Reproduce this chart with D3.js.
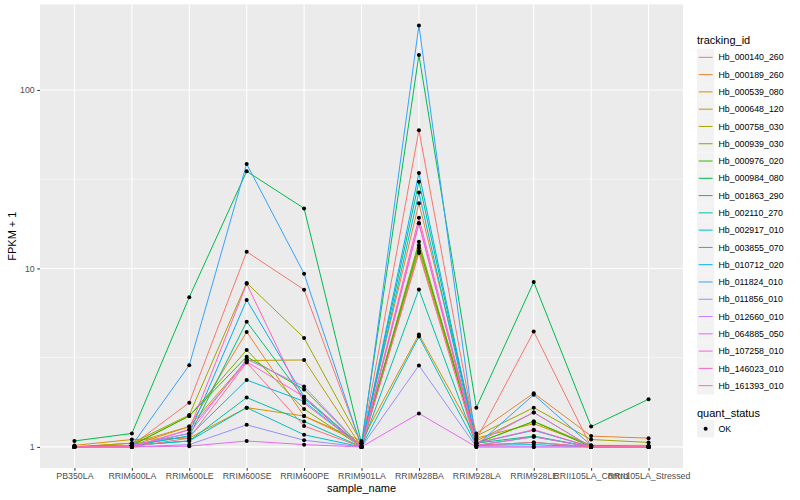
<!DOCTYPE html>
<html>
<head>
<meta charset="utf-8">
<script src="https://cdn.jsdelivr.net/npm/d3@7"></script>
<style>
  body { margin: 0; background: #fff; }
  text { font-family: "Liberation Sans", Arial, sans-serif; }
</style>
</head>
<body>
<div class="chart"></div>
<script>
const svgWidth = 800
const svgHeight = 500

// sample names on the x axis
const samples = ["PB350LA", "RRIM600LA", "RRIM600LE", "RRIM600SE", "RRIM600PE", "RRIM901LA",
  "RRIM928BA", "RRIM928LA", "RRIM928LE", "RRII105LA_Control", "RRII105LA_Stressed"]

const trackingIds = ["Hb_000140_260", "Hb_000189_260", "Hb_000539_080", "Hb_000648_120",
  "Hb_000758_030", "Hb_000939_030", "Hb_000976_020", "Hb_000984_080", "Hb_001863_290",
  "Hb_002110_270", "Hb_002917_010", "Hb_003855_070", "Hb_010712_020", "Hb_011824_010",
  "Hb_011856_010", "Hb_012660_010", "Hb_064885_050", "Hb_107258_010", "Hb_146023_010",
  "Hb_161393_010"]

// FPKM + 1, one row per tracking id, in sample order
const fpkm = [
  [1.0, 1.02, 1.77, 12.4, 7.6, 1.02, 59.5, 1.10, 4.43, 1.0, 1.0],
  [1.0, 1.05, 1.30, 4.41, 1.49, 1.05, 23.2, 1.19, 2.0, 1.15, 1.12],
  [1.02, 1.10, 1.12, 1.66, 1.49, 1.08, 4.27, 1.12, 1.35, 1.02, 1.02],
  [1.0, 1.02, 1.30, 3.05, 3.07, 1.0, 12.5, 1.08, 1.56, 1.0, 1.0],
  [1.0, 1.05, 1.51, 8.3, 4.08, 1.05, 13.0, 1.15, 1.66, 1.10, 1.06],
  [1.0, 1.02, 1.49, 3.49, 1.63, 1.0, 14.1, 1.05, 1.39, 1.02, 1.0],
  [1.0, 1.02, 1.49, 3.2, 2.10, 1.0, 13.5, 1.05, 1.39, 1.0, 1.0],
  [1.08, 1.19, 6.9, 35.0, 21.7, 1.05, 157, 1.66, 8.4, 1.30, 1.85],
  [1.0, 1.02, 1.15, 5.03, 1.87, 1.0, 30.6, 1.05, 1.15, 1.0, 1.0],
  [1.0, 1.02, 1.08, 1.89, 1.39, 1.0, 7.63, 1.02, 1.06, 1.0, 1.0],
  [1.0, 1.02, 1.08, 1.66, 1.17, 1.0, 4.15, 1.02, 1.14, 1.0, 1.0],
  [1.0, 1.02, 1.15, 2.37, 1.80, 1.0, 26.6, 1.02, 1.03, 1.0, 1.0],
  [1.0, 1.02, 1.19, 6.66, 1.91, 1.0, 34.2, 1.05, 1.24, 1.0, 1.0],
  [1.0, 1.02, 2.87, 38.5, 9.35, 1.0, 230, 1.02, 1.96, 1.02, 1.0],
  [1.0, 1.0, 1.03, 1.33, 1.09, 1.0, 2.86, 1.0, 1.0, 1.0, 1.0],
  [1.0, 1.02, 1.19, 3.1, 2.18, 1.0, 17.9, 1.05, 1.56, 1.0, 1.0],
  [1.0, 1.0, 1.01, 1.08, 1.03, 1.0, 1.54, 1.0, 1.0, 1.0, 1.0],
  [1.0, 1.0, 1.25, 3.0, 1.91, 1.0, 17.9, 1.02, 1.14, 1.0, 1.0],
  [1.0, 1.0, 1.25, 8.2, 1.76, 1.0, 19.2, 1.05, 1.25, 1.0, 1.0],
  [1.0, 1.0, 1.12, 2.97, 1.31, 1.0, 12.2, 1.02, 1.06, 1.0, 1.0]
]

const yTicks = [1, 10, 100]
const yMinorTicks = [Math.sqrt(10), Math.sqrt(1000)]

// ggplot default hue palette for 20 groups
const palette = ["#F8766D", "#EA8331", "#D89000", "#C09B00", "#A3A500", "#7CAE00", "#39B600",
  "#00BB4E", "#00BF7D", "#00C1A3", "#00BFC4", "#00BAE0", "#00B0F6", "#35A2FF", "#9590FF",
  "#C77CFF", "#E76BF3", "#FA62DB", "#FF62BC", "#FF6C91"]

let panel = { left: 40, right: 683, top: 4.3, bottom: 468 }

let svg = d3.select(".chart")
  .append("svg")
  .attr("width", svgWidth)
  .attr("height", svgHeight)

svg.append("rect")
  .attr("width", svgWidth).attr("height", svgHeight)
  .attr("fill", "#fff")

let color = d3.scaleOrdinal().domain(trackingIds).range(palette)

let x = d3.scalePoint()
  .domain(samples)
  .range([panel.left, panel.right])
  .padding(0.6)

// log scale with 5% expansion like ggplot
let allVals = fpkm.flat()
let lo = Math.log10(d3.min(allVals))
let hi = Math.log10(d3.max(allVals))
let ex = (hi - lo) * 0.05
let y = d3.scaleLog()
  .domain([Math.pow(10, lo - ex), Math.pow(10, hi + ex)])
  .range([panel.bottom, panel.top])

svg.append("rect")
  .attr("x", panel.left).attr("y", panel.top)
  .attr("width", panel.right - panel.left)
  .attr("height", panel.bottom - panel.top)
  .attr("fill", "#ebebeb")

let grid = svg.append("g")
grid.selectAll(".minor")
  .data(yMinorTicks)
  .enter().append("line")
  .attr("x1", panel.left).attr("x2", panel.right)
  .attr("y1", d => y(d)).attr("y2", d => y(d))
  .attr("stroke", "#fff").attr("stroke-width", 0.55)
grid.selectAll(".major")
  .data(yTicks)
  .enter().append("line")
  .attr("x1", panel.left).attr("x2", panel.right)
  .attr("y1", d => y(d)).attr("y2", d => y(d))
  .attr("stroke", "#fff").attr("stroke-width", 1.1)
grid.selectAll(".vmajor")
  .data(samples)
  .enter().append("line")
  .attr("x1", d => x(d)).attr("x2", d => x(d))
  .attr("y1", panel.top).attr("y2", panel.bottom)
  .attr("stroke", "#fff").attr("stroke-width", 1.1)

let line = d3.line()
  .x((d, i) => x(samples[i]))
  .y(d => y(d))

svg.append("g")
  .selectAll("path")
  .data(fpkm)
  .enter().append("path")
  .attr("d", d => line(d))
  .attr("fill", "none")
  .attr("stroke", (d, i) => color(trackingIds[i]))
  .attr("stroke-width", 1)

let pts = []
fpkm.forEach(row => row.forEach((v, j) => pts.push({ s: samples[j], v: v })))
svg.append("g")
  .selectAll("circle")
  .data(pts)
  .enter().append("circle")
  .attr("cx", d => x(d.s))
  .attr("cy", d => y(d.v))
  .attr("r", 2)
  .attr("fill", "#000")

// axes
let xAxis = svg.append("g")
  .attr("transform", `translate(0, ${panel.bottom})`)
  .call(d3.axisBottom(x).tickSize(2.75).tickPadding(2.5))
let yAxis = svg.append("g")
  .attr("transform", `translate(${panel.left}, 0)`)
  .call(d3.axisLeft(y).tickValues(yTicks).tickFormat(d3.format("d")).tickSize(2.75).tickPadding(2.5))

;[xAxis, yAxis].forEach(a => {
  a.select(".domain").remove()
  a.selectAll(".tick line").attr("stroke", "#333")
  a.selectAll(".tick text").attr("fill", "#4d4d4d").attr("font-size", "8.8px")
    .attr("font-family", "Liberation Sans, Arial, sans-serif")
})

svg.append("text")
  .attr("x", (panel.left + panel.right) / 2)
  .attr("y", 492)
  .attr("text-anchor", "middle")
  .attr("font-size", "11px")
  .text("sample_name")

svg.append("text")
  .attr("transform", `translate(16, ${(panel.top + panel.bottom) / 2}) rotate(-90)`)
  .attr("text-anchor", "middle")
  .attr("font-size", "11px")
  .text("FPKM + 1")

// legend
let legend = svg.append("g").attr("transform", "translate(697, 0)")
legend.append("text")
  .attr("x", 0).attr("y", 44)
  .attr("font-size", "11px")
  .text("tracking_id")

let keys = legend.selectAll(".key")
  .data(trackingIds)
  .enter().append("g")
  .attr("transform", (d, i) => `translate(0, ${48.7 + i * 17.28})`)
keys.append("rect")
  .attr("width", 17.28).attr("height", 17.28)
  .attr("fill", "#f2f2f2")
keys.append("line")
  .attr("x1", 1.7).attr("x2", 15.6)
  .attr("y1", 8.64).attr("y2", 8.64)
  .attr("stroke", d => color(d))
  .attr("stroke-width", 1)
keys.append("text")
  .attr("x", 21.5).attr("y", 11.8)
  .attr("font-size", "8.8px")
  .text(d => d)

legend.append("text")
  .attr("x", 0).attr("y", 417)
  .attr("font-size", "11px")
  .text("quant_status")
let ok = legend.append("g").attr("transform", "translate(0, 420)")
ok.append("rect")
  .attr("width", 17.28).attr("height", 17.28)
  .attr("fill", "#f2f2f2")
ok.append("circle")
  .attr("cx", 8.64).attr("cy", 8.64).attr("r", 2)
  .attr("fill", "#000")
ok.append("text")
  .attr("x", 21.5).attr("y", 11.8)
  .attr("font-size", "8.8px")
  .text("OK")
</script>
</body>
</html>
